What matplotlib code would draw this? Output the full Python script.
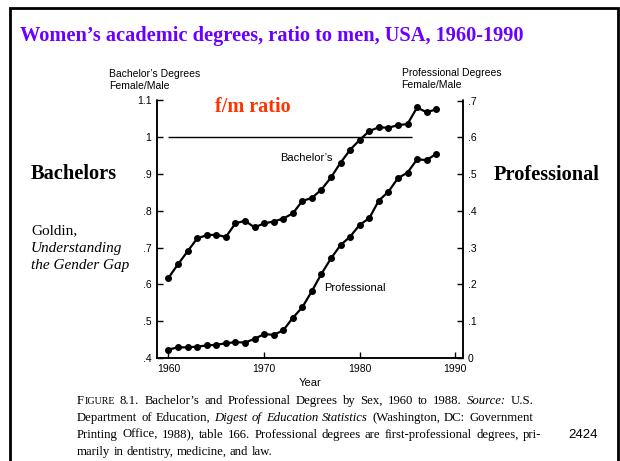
import matplotlib
matplotlib.use('Agg')
import matplotlib.pyplot as plt
from matplotlib.patches import Rectangle

# data (1960-1988)
years = list(range(1960, 1989))
bachelors = [0.618, 0.655, 0.690, 0.725, 0.734, 0.735, 0.729, 0.766, 0.773, 0.755,
             0.766, 0.771, 0.779, 0.793, 0.827, 0.835, 0.858, 0.891, 0.931, 0.966,
             0.993, 1.017, 1.027, 1.026, 1.033, 1.036, 1.081, 1.068, 1.076]
professional = [0.023, 0.029, 0.029, 0.031, 0.034, 0.036, 0.040, 0.043, 0.042, 0.052,
                0.065, 0.063, 0.075, 0.109, 0.138, 0.182, 0.229, 0.271, 0.307, 0.330,
                0.362, 0.380, 0.428, 0.452, 0.489, 0.504, 0.540, 0.538, 0.555]

parity_level = 1.0
parity_years = [1960, 1985.5]

x_ticks = [1960, 1970, 1980, 1990]
left_ticks = [0.4, 0.5, 0.6, 0.7, 0.8, 0.9, 1.0, 1.1]
left_labels = ['.4', '.5', '.6', '.7', '.8', '.9', '1', '1.1']
right_ticks = [0, 0.1, 0.2, 0.3, 0.4, 0.5, 0.6, 0.7]
right_labels = ['0', '.1', '.2', '.3', '.4', '.5', '.6', '.7']

caption_lines = [
    [('Figure', 'sc'), ('8.1.', 'normal'), ('Bachelor\u2019s', 'normal'), ('and', 'normal'),
     ('Professional', 'normal'), ('Degrees', 'normal'), ('by', 'normal'), ('Sex,', 'normal'),
     ('1960', 'normal'), ('to', 'normal'), ('1988.', 'normal'), ('Source:', 'italic'), ('U.S.', 'normal')],
    [('Department', 'normal'), ('of', 'normal'), ('Education,', 'normal'), ('Digest', 'italic'),
     ('of', 'italic'), ('Education', 'italic'), ('Statistics', 'italic'), ('(Washington,', 'normal'),
     ('DC:', 'normal'), ('Government', 'normal')],
    [(w, 'normal') for w in 'Printing Office, 1988), table 166. Professional degrees are first-professional degrees, pri-'.split()],
    [(w, 'normal') for w in 'marily in dentistry, medicine, and law.'.split()],
]

W, H = 620, 461
SERIF = 'Liberation Serif'
SANS = 'Liberation Sans'


def px(x, y):
    return x / W, 1 - y / H


fig = plt.figure(figsize=(6.2, 4.61), dpi=100, facecolor='white')

# frame round the slide
fig.patches.append(Rectangle(px(10, 470), 608 / W, 462 / H, transform=fig.transFigure,
                             fill=False, edgecolor='black', linewidth=2))

ax = fig.add_axes([157 / W, 1 - 358 / H, 305.5 / W, 257.5 / H])
ax2 = ax.twinx()

ax.plot(years, bachelors, color='black', linewidth=1.6, marker='o', markersize=4)
ax2.plot(years, professional, color='black', linewidth=1.6, marker='o', markersize=4)
ax.hlines(parity_level, parity_years[0], parity_years[1], color='black', linewidth=1.0)

ax.set_xlim(1958.8, 1990.75)
ax.set_ylim(0.4, 1.1)
ax2.set_ylim(0, 0.7)

ax.set_xticks(x_ticks)
ax.set_xticklabels([str(t) for t in x_ticks], family=SANS)
ax.set_yticks(left_ticks)
ax.set_yticklabels(left_labels, family=SANS)
ax2.set_yticks(right_ticks)
ax2.set_yticklabels(right_labels, family=SANS)

for a in (ax, ax2):
    a.spines['top'].set_visible(False)
    for s in ('left', 'right', 'bottom'):
        a.spines[s].set_linewidth(1.1)
    a.tick_params(direction='in', length=4.5, width=1.0, labelsize=7.5, pad=4.0)

ax.set_xlabel('Year', family=SANS, fontsize=8, labelpad=3)

ax.text(1971.7, 0.945, 'Bachelor\u2019s', family=SANS, fontsize=8, va='center', ha='left')
ax.text(1976.3, 0.591, 'Professional', family=SANS, fontsize=8, va='center', ha='left')

fig.text(*px(109, 69), 'Bachelor\u2019s Degrees\nFemale/Male', family=SANS, fontsize=7.5,
         va='top', ha='left', linespacing=1.25)
fig.text(*px(401.5, 68), 'Professional Degrees\nFemale/Male', family=SANS, fontsize=7.5,
         va='top', ha='left', linespacing=1.25)

fig.text(*px(20, 41), 'Women\u2019s academic degrees, ratio to men, USA, 1960-1990',
         family=SERIF, fontweight='bold', fontsize=14.7, color='#6a00ff', va='baseline')
fig.text(*px(215, 112), 'f/m ratio', family=SERIF, fontweight='bold', fontsize=14.5,
         color='#ff3300', va='baseline')
fig.text(*px(31, 179), 'Bachelors', family=SERIF, fontweight='bold', fontsize=14.7, va='baseline')
fig.text(*px(494, 180), 'Professional', family=SERIF, fontweight='bold', fontsize=14.7, va='baseline')

fig.text(*px(31, 231), 'Goldin,', family=SERIF, fontsize=11, va='center')
fig.text(*px(31, 248.5), 'Understanding', family=SERIF, fontstyle='italic', fontsize=11, va='center')
fig.text(*px(31, 266), 'the Gender Gap', family=SERIF, fontstyle='italic', fontsize=11, va='center')

fig.text(*px(568, 438), '2424', family=SANS, fontsize=9.5, va='baseline')

# caption, word by word so lines can be justified
CAP = 9.2
renderer = fig.canvas.get_renderer()


def width_of(t):
    return t.get_window_extent(renderer).width


probe = fig.text(0, 0, 'a a', family=SERIF, fontsize=CAP)
probe2 = fig.text(0, 0, 'aa', family=SERIF, fontsize=CAP)
space_w = width_of(probe) - width_of(probe2)
probe.remove()
probe2.remove()

cap_left = 77
cap_baselines = [404, 421, 438, 455]
cap_rights = [533, 533, 541, None]

for words, yb, right in zip(caption_lines, cap_baselines, cap_rights):
    groups = []
    for w, st in words:
        if st == 'sc':
            t1 = fig.text(0, 1 - yb / H, w[0].upper(), family=SERIF, fontsize=CAP, va='baseline')
            t2 = fig.text(0, 1 - yb / H, w[1:].upper(), family=SERIF, fontsize=CAP * 0.78, va='baseline')
            groups.append([t1, t2])
        else:
            groups.append([fig.text(0, 1 - yb / H, w, family=SERIF, fontsize=CAP,
                                    fontstyle=st, va='baseline')])
    widths = [[width_of(t) for t in g] for g in groups]
    total = sum(sum(g) for g in widths)
    if right is not None and len(groups) > 1:
        gap = (right - cap_left - total) / (len(groups) - 1)
    else:
        gap = space_w
    x = cap_left
    for g, ws in zip(groups, widths):
        for t, wd in zip(g, ws):
            t.set_x(x / W)
            x += wd + 0.5
        x += gap - 0.5

fig.savefig('out.png', dpi=100, facecolor='white')
